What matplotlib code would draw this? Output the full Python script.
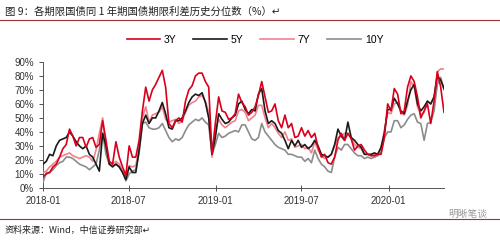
import matplotlib
matplotlib.use("Agg")
import matplotlib.pyplot as plt
import matplotlib.dates as mdates
import pandas as pd

plt.rcParams['font.family'] = ['Liberation Sans', 'Noto Sans CJK SC', 'DejaVu Sans']

# weekly percentile readings (%) from 2018-01-01
dates = pd.date_range('2018-01-01', periods=122, freq='7D')

y3 = [8, 10, 11, 15, 17, 22, 28, 31, 42, 37, 30, 36, 36, 29, 35, 36, 29, 31, 48, 34,
      19, 17, 33, 22, 15, 9, 30, 22, 22, 34, 55, 72, 62, 70, 74, 79, 84, 72, 46, 43,
      48, 50, 47, 62, 70, 73, 80, 82, 82, 76, 72, 24, 46, 65, 55, 54, 49, 50, 53, 67,
      61, 58, 52, 54, 58, 66, 76, 65, 54, 55, 60, 48, 43, 52, 43, 46, 36, 37, 43, 37,
      41, 36, 39, 29, 22, 24, 18, 17, 22, 34, 39, 34, 39, 35, 27, 30, 31, 27, 24, 23,
      23, 24, 24, 36, 60, 55, 71, 67, 53, 55, 72, 80, 76, 65, 50, 55, 60, 46, 62, 83,
      72, 54]
y5 = [17, 19, 24, 23, 30, 34, 35, 36, 40, 37, 33, 30, 28, 30, 24, 22, 17, 12, 39, 30,
      17, 15, 17, 15, 11, 6, 15, 11, 11, 27, 46, 52, 46, 50, 50, 55, 61, 53, 43, 42,
      48, 48, 50, 55, 61, 65, 67, 66, 68, 61, 50, 24, 36, 53, 49, 46, 47, 50, 52, 60,
      62, 56, 53, 56, 55, 67, 71, 55, 46, 48, 46, 41, 39, 34, 28, 34, 30, 34, 29, 31,
      28, 30, 34, 30, 24, 23, 22, 24, 31, 42, 37, 34, 47, 36, 34, 31, 29, 24, 24, 24,
      25, 24, 29, 39, 56, 56, 64, 60, 55, 53, 62, 70, 74, 60, 55, 58, 62, 60, 65, 80,
      77, 71]
y7 = [11, 12, 15, 17, 19, 22, 23, 24, 25, 23, 22, 21, 22, 23, 22, 19, 27, 39, 50, 29,
      17, 17, 19, 17, 12, 7, 16, 15, 16, 28, 50, 58, 47, 52, 53, 54, 58, 49, 47, 48,
      49, 46, 48, 54, 59, 61, 62, 65, 66, 62, 54, 22, 41, 49, 45, 43, 45, 47, 48, 55,
      56, 54, 48, 50, 52, 59, 59, 50, 43, 46, 43, 39, 36, 40, 34, 35, 29, 30, 31, 28,
      29, 25, 33, 27, 23, 21, 22, 24, 30, 36, 37, 39, 39, 36, 31, 29, 28, 24, 24, 23,
      24, 24, 28, 41, 54, 53, 60, 61, 54, 52, 59, 76, 72, 58, 52, 54, 62, 60, 65, 83,
      85, 85]
y10 = [4, 11, 11, 13, 16, 18, 19, 22, 22, 21, 19, 17, 16, 15, 13, 15, 17, 27, 39, 24,
       17, 16, 17, 15, 12, 5, 10, 12, 13, 25, 46, 47, 43, 42, 42, 43, 46, 41, 36, 33,
       35, 34, 36, 41, 45, 47, 49, 48, 50, 47, 45, 24, 31, 39, 36, 37, 39, 40, 41, 40,
       45, 45, 40, 35, 34, 36, 46, 40, 37, 34, 31, 29, 28, 27, 24, 24, 23, 22, 22, 19,
       21, 18, 27, 21, 17, 15, 12, 11, 22, 29, 27, 31, 31, 28, 25, 23, 23, 21, 22, 21,
       22, 23, 25, 36, 40, 40, 48, 48, 43, 45, 49, 52, 53, 47, 46, 34, 46, 47, 55, 74,
       79, 70]

labels = ['3Y', '5Y', '7Y', '10Y']
colors = ['#D9001B', '#1A1A1A', '#F2808C', '#8C8C8C']

fig = plt.figure(figsize=(5, 2.4), dpi=100)
ax = fig.add_axes([0.086, 0.217, 0.802, 0.525])

series = [y3, y5, y7, y10]
for i, (s, lab, c) in enumerate(zip(series, labels, colors)):
    ax.plot(dates, s, color=c, lw=1.2, label=lab, zorder=10 - i)

ax.set_ylim(0, 90)
ax.set_yticks(range(0, 91, 10))
ax.set_yticklabels([f'{v}%' for v in range(0, 91, 10)])
ax.set_xlim(dates[0], dates[-1])
ax.set_xticks(pd.to_datetime(['2018-01-01', '2018-07-01', '2019-01-01', '2019-07-01', '2020-01-01']))
ax.xaxis.set_major_formatter(mdates.DateFormatter('%Y-%m'))
ax.tick_params(labelsize=7, colors='#333333', length=3, width=0.6)
ax.tick_params(axis='x', direction='inout', length=5)
for side in ['top', 'right']:
    ax.spines[side].set_visible(False)
for side in ['left', 'bottom']:
    ax.spines[side].set_color('#555555')
    ax.spines[side].set_linewidth(0.7)

fig.legend(loc='center', bbox_to_anchor=(0.51, 0.833), ncol=4, frameon=False,
           fontsize=7.5, handlelength=3.2, columnspacing=1.6, handletextpad=0.4)

fig.text(0.01, 0.95, '图 9：各期限国债同 1 年期国债期限利差历史分位数（%）↵',
         fontsize=7.5, color='#222222', va='center',
         family=['Noto Sans CJK SC', 'DejaVu Sans'])
fig.add_artist(plt.Line2D([0, 1], [0.918, 0.918], color='#A0303A', lw=0.8))
fig.add_artist(plt.Line2D([0, 1], [0.088, 0.088], color='#A0303A', lw=0.8))
fig.text(0.01, 0.04, '资料来源：Wind，中信证券研究部↵', fontsize=6.5, color='#222222',
         va='center', family=['Noto Sans CJK SC', 'DejaVu Sans'])
fig.text(0.935, 0.11, '明晰笔谈', fontsize=7, color='#999999', ha='center', va='center',
         family=['Noto Sans CJK SC', 'DejaVu Sans'])

fig.savefig('out.png', dpi=100)
